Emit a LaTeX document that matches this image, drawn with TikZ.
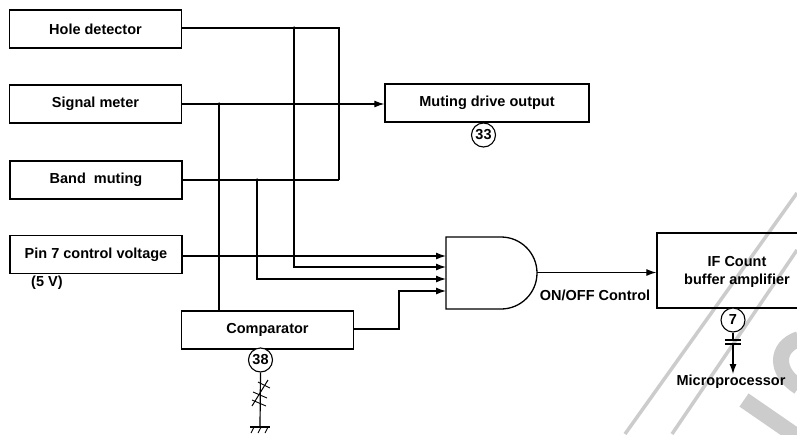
\documentclass[tikz,border=0pt]{standalone}
\usepackage{fontspec}
\setmainfont{Liberation Sans}
\usetikzlibrary{arrows.meta}
\definecolor{wm}{gray}{0.80}
\tikzset{
  x=1pt,y=-1pt,
  box/.style={draw=black,line width=1.3pt,fill=white,inner sep=0pt,minimum width=#1,minimum height=38pt,font=\fontsize{14.5}{17}\selectfont\bfseries},
  box/.default=172pt,
  wire/.style={draw=black,line width=1.2pt},
  arr/.style={wire,-{Latex[length=10pt,width=7pt]}},
  pin/.style={circle,draw=black,line width=1.1pt,fill=white,minimum size=24pt,inner sep=0pt,font=\fontsize{14.5}{17}\selectfont\bfseries},
  dot/.style={circle,fill=black,inner sep=0pt,minimum size=3.5pt},
  lab/.style={inner sep=0pt,font=\fontsize{14.5}{18}\selectfont\bfseries}
}
\begin{document}
\begin{tikzpicture}
\useasboundingbox (0,0) rectangle (797,434);
% watermark
\draw[draw=wm,line width=3.5pt] (797,193) -- (625,434);
\draw[draw=wm,line width=3.5pt] (797,250) -- (672,434);
\draw[draw=wm,line width=16pt] (799,339) .. controls (775,347) and (775,372) .. (799,387);
\draw[draw=wm,line width=16pt] (744,400) -- (802,440);
% boxes
\node[box] (hole) at (95.5,29) {Hole detector};
\node[box] (signal) at (95.5,104) {Signal meter};
\node[box] (band) at (96,180) {Band\ \ muting};
\node[box] (pinv) at (96,254.5) {Pin 7 control voltage};
\node[box] (comp) at (267.5,330) {Comparator};
\node[box=204pt] (mute) at (487,103) {Muting drive output};
\node[pin] (p33) at (483.5,135) {33};
\node[pin] (p38) at (260.5,360) {38};
% junction coordinates
\coordinate (jh) at (294,28);
\coordinate (jhr) at (339,28);
\coordinate (jb) at (339,180);
\coordinate (js) at (219,104);
\coordinate (jm) at (257,180);
\coordinate (a1) at (446,256);
\coordinate (a2) at (446,267);
\coordinate (a3) at (446,279);
\coordinate (a4) at (446,291);
\coordinate (c1) at (399,329);
\coordinate (c2) at (399,291);
% AND gate
\draw[draw=black,line width=1.3pt,fill=white] (446,237) -- (501,237) arc[start angle=-90,end angle=90,radius=36] -- (446,309) -- cycle;
\coordinate (andout) at (537,272.5);
\node[draw=black,line width=1.3pt,minimum width=150pt,minimum height=75pt,inner sep=0pt] (ifb) at (732,270.5) {};
\node[lab,align=center] at (737,272) {IF Count\\buffer amplifier};
\node[pin] (p7) at (733,320) {7};
% wires
\draw[wire] (hole.east |- jh) -- (jhr) -- (jb);
\draw[wire] (band.east |- jb) -- (jb);
\draw[arr] (signal.east |- js) -- (mute.west |- js);
\draw[wire] (js) -- (js |- comp.north);
\draw[arr] (jh) -- (294,267) -- (a2);
\draw[arr] (jm) -- (257,279) -- (a3);
\draw[arr] (pinv.east |- a1) -- (a1);
\draw[arr] (comp.east |- c1) -- (c1) -- (c2) -- (a4);
\draw[arr] (andout) -- (ifb.west |- andout);
\node[dot] at (jh) {};
\node[dot] at (js) {};
\node[dot] at (jm) {};
\node[dot] at (339,104) {};
% labels
\node[lab,anchor=west] at (31,283) {(5 V)};
\node[lab] at (595,295) {ON/OFF Control};
\node[lab] (micro) at (731,382) {Microprocessor};
% capacitor and arrow
\coordinate (capa) at (733,340);
\coordinate (capb) at (733,344);
\draw[wire] (p7.south) -- (capa);
\draw[wire] (725,340) -- (741,340);
\draw[wire] (725,344) -- (741,344);
\draw[arr] (capb) -- (733,374);
% resistor and ground
\coordinate (gnd) at (260,427);
\draw[wire] (p38.south) -- (gnd);
\draw[wire,line width=1pt] (252,406) -- (268,380);
\draw[wire,line width=.9pt] (258,382) -- (270,388);
\draw[wire,line width=.9pt] (253,392) -- (267,398);
\draw[wire,line width=.9pt] (252,400) -- (266,406);
\draw[wire] (250,427) -- (270,427);
\draw[wire,line width=.9pt] (254,427) -- (251,433);
\draw[wire,line width=.9pt] (261,427) -- (258,433);
\draw[wire,line width=.9pt] (268,427) -- (265,433);
\end{tikzpicture}
\end{document}
